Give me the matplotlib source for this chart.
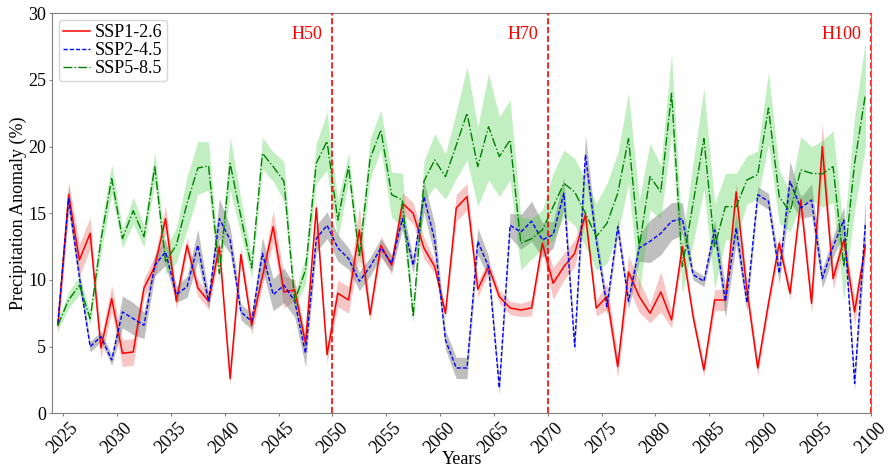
"""
Precipitation anomaly projections under three SSP scenarios (2024-2100).
"""
import numpy as np
import matplotlib
matplotlib.use('Agg')  # Non-interactive backend
import matplotlib.pyplot as plt

plt.rcParams['font.family'] = ['Liberation Serif', 'DejaVu Serif']

# Mid-year time stamps
years = np.arange(2024, 2100) + 0.5

# SSP1-2.6 mean and spread (%)
ssp126 = [6.6, 16.4, 11.5, 13.5, 4.9, 8.6, 4.5, 4.6, 9.4, 11.0,
          14.6, 8.4, 12.6, 9.4, 8.4, 12.5, 2.6, 11.9, 6.6, 10.25,
          14.0, 9.1, 9.25, 5.25, 15.4, 4.4, 9.0, 8.5, 13.75, 7.4,
          12.6, 11.1, 15.75, 15.0, 12.4, 11.0, 7.5, 15.4, 16.25, 9.3,
          11.0, 8.75, 7.9, 7.75, 7.9, 12.75, 9.75, 11.0, 12.0, 14.9,
          7.9, 8.75, 3.5, 10.6, 8.75, 7.5, 9.1, 7.0, 12.5, 7.25,
          3.25, 8.5, 8.5, 16.6, 9.25, 3.4, 8.25, 12.75, 9.0, 16.0,
          8.25, 20.0, 10.1, 13.0, 7.6, 12.6]
ssp126_sd = [0.8, 1.0, 1.2, 1.2, 0.8, 1.0, 1.0, 1.0, 0.7, 0.8,
             1.0, 0.6, 0.6, 0.6, 0.6, 0.6, 0.5, 0.6, 0.7, 0.7,
             1.2, 1.2, 0.8, 0.6, 0.6, 0.6, 1.0, 1.0, 1.8, 0.5,
             0.7, 0.7, 0.8, 0.8, 0.8, 0.5, 0.4, 1.0, 1.0, 0.6,
             0.5, 0.5, 0.5, 0.5, 0.6, 0.6, 1.2, 1.0, 1.0, 0.5,
             0.6, 1.0, 0.8, 1.2, 1.2, 0.7, 1.5, 0.6, 0.6, 0.5,
             0.5, 0.8, 0.8, 0.7, 0.7, 0.6, 0.5, 0.6, 0.5, 0.6,
             0.8, 1.8, 0.8, 0.6, 1.0, 0.7]

# SSP2-4.5 mean and spread (%)
ssp245 = [6.75, 16.1, 10.2, 5.0, 5.75, 4.0, 7.6, 7.1, 6.6, 11.1,
          12.1, 8.9, 9.5, 12.6, 8.4, 14.6, 13.0, 7.6, 6.9, 12.0,
          8.9, 9.6, 8.4, 4.5, 13.1, 14.1, 12.4, 11.6, 9.9, 11.0,
          12.4, 11.25, 14.6, 11.1, 16.25, 13.0, 5.5, 3.4, 3.4, 12.9,
          11.0, 1.9, 14.1, 13.6, 14.4, 13.0, 13.4, 16.5, 5.0, 19.4,
          13.0, 8.0, 14.0, 8.4, 12.4, 12.9, 13.5, 14.4, 14.6, 10.4,
          9.9, 13.75, 8.4, 13.9, 8.3, 16.4, 15.9, 10.5, 17.4, 15.4,
          16.0, 10.1, 12.5, 14.5, 2.25, 14.25]
ssp245_sd = [0.5, 1.0, 0.6, 0.4, 0.4, 0.4, 1.2, 1.2, 1.0, 0.8,
             1.0, 0.6, 0.8, 1.2, 0.6, 1.5, 1.0, 0.6, 0.6, 1.2,
             1.2, 1.3, 1.2, 1.0, 1.0, 1.0, 1.0, 0.8, 0.7, 0.7,
             0.7, 0.6, 0.8, 0.6, 1.2, 1.2, 0.7, 0.8, 0.8, 1.0,
             0.8, 0.5, 0.9, 1.3, 1.5, 1.3, 1.0, 1.2, 0.5, 1.5,
             0.7, 0.6, 0.6, 0.6, 1.0, 1.6, 1.6, 1.4, 1.2, 0.4,
             0.4, 0.8, 1.2, 1.2, 0.7, 0.6, 0.6, 0.8, 1.5, 0.8,
             1.2, 0.7, 0.8, 1.0, 0.5, 1.8]

# SSP5-8.5 mean and spread (%)
ssp585 = [6.6, 8.5, 9.6, 7.1, 13.0, 17.6, 13.1, 15.2, 13.25, 18.5,
          11.4, 12.6, 15.75, 18.4, 18.55, 10.5, 18.75, 14.75, 10.9, 19.5,
          18.5, 17.4, 8.4, 10.75, 18.75, 20.4, 14.5, 18.5, 11.75, 19.1,
          21.25, 16.4, 16.0, 7.25, 17.4, 19.0, 17.75, 20.1, 22.5, 18.5,
          21.5, 19.25, 20.5, 12.75, 13.1, 13.75, 15.5, 17.25, 16.6, 15.0,
          13.25, 14.25, 16.5, 20.6, 12.5, 17.75, 16.6, 24.0, 11.0, 15.75,
          20.6, 12.5, 15.5, 15.5, 17.5, 17.9, 22.9, 16.25, 15.1, 18.25,
          18.0, 17.95, 18.5, 11.0, 18.75, 23.9]
ssp585_sd = [0.4, 0.6, 0.7, 0.5, 1.0, 1.1, 0.7, 1.0, 0.8, 1.1,
             1.0, 1.3, 2.0, 2.0, 1.8, 0.7, 2.0, 1.3, 0.8, 1.2,
             1.1, 1.5, 0.6, 1.0, 1.5, 2.2, 1.5, 1.0, 1.0, 1.5,
             1.5, 1.7, 2.0, 0.5, 1.5, 2.0, 1.7, 2.5, 3.5, 3.0,
             4.0, 3.0, 3.0, 2.0, 1.5, 1.5, 2.5, 2.5, 2.5, 2.5,
             2.5, 3.0, 3.0, 3.4, 3.5, 2.5, 2.0, 3.0, 2.0, 3.0,
             3.8, 3.2, 2.5, 2.5, 1.8, 1.8, 2.7, 2.0, 1.5, 2.5,
             2.0, 2.5, 2.7, 2.5, 3.5, 4.0]

# Horizon markers
horizons = [2050, 2070, 2100]
horizon_labels = ['H50', 'H70', 'H100']


def main():
    fig = plt.figure(figsize=(8.94, 4.67), dpi=100)
    ax = fig.add_axes([0.0587, 0.115, 0.9153, 0.8565])

    m1, s1 = np.array(ssp126), np.array(ssp126_sd)
    m2, s2 = np.array(ssp245), np.array(ssp245_sd)
    m3, s3 = np.array(ssp585), np.array(ssp585_sd)

    # Uncertainty bands
    ax.fill_between(years, m1 - s1, m1 + s1, color='lightcoral', alpha=0.45, lw=0)
    ax.fill_between(years, m2 - s2, m2 + s2, color='grey', alpha=0.5, lw=0)
    ax.fill_between(years, m3 - s3, m3 + s3, color='limegreen', alpha=0.3, lw=0)

    # Mean lines
    ax.plot(years, m1, color='red', ls='-', lw=1.1, label='SSP1-2.6', zorder=3)
    ax.plot(years, m2, color='blue', ls='--', lw=1.0, dashes=(3, 1.5), label='SSP2-4.5', zorder=3)
    ax.plot(years, m3, color='green', ls='-.', lw=1.0, label='SSP5-8.5', zorder=3)

    # Horizon lines and labels
    for h, lab in zip(horizons, horizon_labels):
        ax.axvline(h, color='red', ls='--', lw=1.2, zorder=4)
        ax.text(h - 0.9, 28.4, lab, color='red', fontsize=13, ha='right', va='center')

    ax.set_xlim(2024, 2100)
    ax.set_ylim(0, 30)
    ax.set_xticks(np.arange(2025, 2101, 5))
    ax.set_yticks(np.arange(0, 31, 5))
    ax.tick_params(axis='both', labelsize=13, length=2.5, pad=2, color='grey')
    plt.setp(ax.get_xticklabels(), rotation=45)

    ax.set_xlabel('Years', fontsize=13, labelpad=-4)
    ax.set_ylabel('Precipitation Anomaly (%)', fontsize=13, labelpad=0.5)

    for sp in ax.spines.values():
        sp.set_color('grey')

    ax.legend(loc='upper left', fontsize=13, borderaxespad=0.35, handlelength=1.5,
              handletextpad=0.25, labelspacing=0.05, borderpad=0.25)

    fig.savefig('out.png', dpi=100)
    plt.close(fig)


if __name__ == "__main__":
    main()
